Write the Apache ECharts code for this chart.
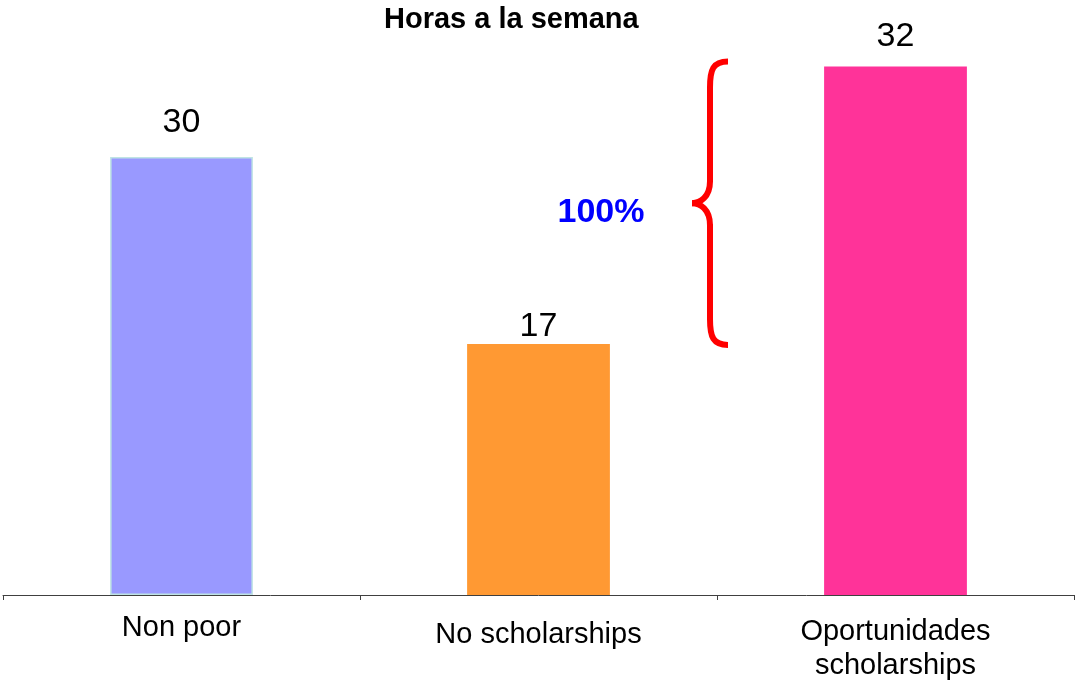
<!DOCTYPE html>
<html>
<head>
<meta charset="utf-8">
<script src="https://cdn.jsdelivr.net/npm/echarts@6/dist/echarts.min.js"></script>
<style>
    html, body { margin: 0; padding: 0; background: #fff; }
    #chart { width: 1076px; height: 682px; }
</style>
</head>
<body>
<div id="chart"></div>
<script>
var categories = ['Non poor', 'No scholarships', 'Oportunidades\nscholarships'];
// bar heights as drawn in the picture (the original bars are not to scale)
var barHeights = [30, 17.2, 36.2];
// values printed above the bars
var shownValues = [30, 17, 32];
var barColors = ['#9999FF', '#FF9933', '#FF3399'];
var labelGaps = [17, 0, 13];
var braceText = '100%';

var chart = echarts.init(document.getElementById('chart'));

var barData = [];
for (var i = 0; i < barHeights.length; i++) {
    barData.push({
        value: barHeights[i],
        itemStyle: {
            color: barColors[i],
            borderColor: i === 0 ? '#bfe4e4' : barColors[i],
            borderWidth: i === 0 ? 1.5 : 0
        },
        label: { distance: labelGaps[i] }
    });
}

var option = {
    animation: false,
    title: {
        text: 'Horas a la semana',
        left: 379,
        top: 0,
        textStyle: {
            fontFamily: 'Liberation Sans',
            fontWeight: 'bold',
            fontSize: 29,
            color: '#000'
        }
    },
    grid: { left: 3, right: 2, top: 11, bottom: 87, outerBoundsMode: 'none' },
    xAxis: {
        type: 'category',
        data: [
            { value: categories[0] },
            { value: categories[1], textStyle: { padding: [7, 0, 0, 0] } },
            { value: categories[2], textStyle: { padding: [4, 0, 0, 0] } }
        ],
        axisLine: { lineStyle: { color: '#404040', width: 1 } },
        axisTick: { show: true, length: 5, lineStyle: { color: '#404040' } },
        axisLabel: {
            margin: 16,
            interval: 0,
            fontFamily: 'Liberation Sans',
            fontSize: 29,
            lineHeight: 34,
            color: '#000'
        }
    },
    yAxis: {
        type: 'value',
        min: 0,
        max: 40,
        show: false,
        splitLine: { show: false }
    },
    series: [{
        type: 'bar',
        barWidth: '40%',
        data: barData,
        label: {
            show: true,
            position: 'top',
            fontFamily: 'Liberation Sans',
            fontSize: 34,
            color: '#000',
            formatter: function (p) {
                return String(shownValues[p.dataIndex]);
            }
        }
    }]
};
chart.setOption(option, true);

// red brace between the "No scholarships" and "Oportunidades" bar tops
var yTop = chart.convertToPixel({ seriesIndex: 0 }, [2, barHeights[2]])[1];
var yBot = chart.convertToPixel({ seriesIndex: 0 }, [1, barHeights[1]])[1];
var xMid = (chart.convertToPixel({ seriesIndex: 0 }, [1, 0])[0] +
            chart.convertToPixel({ seriesIndex: 0 }, [2, 0])[0]) / 2;
var e = xMid + 11, v = xMid - 7, t = xMid - 25;
var y1 = yTop - 5, y2 = yBot + 1, ym = (y1 + y2) / 2;
var braceStyle = { fill: null, stroke: '#FF0000', lineWidth: 6, lineCap: 'butt' };

chart.setOption({
    graphic: [{
        type: 'bezierCurve',
        shape: { x1: e, y1: y1, cpx1: v + 3, cpy1: y1, cpx2: v, cpy2: y1 + 8, x2: v, y2: y1 + 26 },
        style: braceStyle
    }, {
        type: 'line',
        shape: { x1: v, y1: y1 + 25, x2: v, y2: ym - 21 },
        style: braceStyle
    }, {
        type: 'bezierCurve',
        shape: { x1: v, y1: ym - 22, cpx1: v, cpy1: ym - 6, cpx2: t + 8, cpy2: ym, x2: t, y2: ym },
        style: braceStyle
    }, {
        type: 'bezierCurve',
        shape: { x1: t, y1: ym, cpx1: t + 8, cpy1: ym, cpx2: v, cpy2: ym + 6, x2: v, y2: ym + 22 },
        style: braceStyle
    }, {
        type: 'line',
        shape: { x1: v, y1: ym + 21, x2: v, y2: y2 - 25 },
        style: braceStyle
    }, {
        type: 'bezierCurve',
        shape: { x1: v, y1: y2 - 26, cpx1: v, cpy1: y2 - 8, cpx2: v + 3, cpy2: y2, x2: e, y2: y2 },
        style: braceStyle
    }, {
        type: 'text',
        x: t - 91,
        y: ym + 9,
        style: {
            text: braceText,
            fill: '#0000FF',
            font: 'bold 34px "Liberation Sans"',
            textAlign: 'center',
            textVerticalAlign: 'middle'
        }
    }]
});
</script>
</body>
</html>
